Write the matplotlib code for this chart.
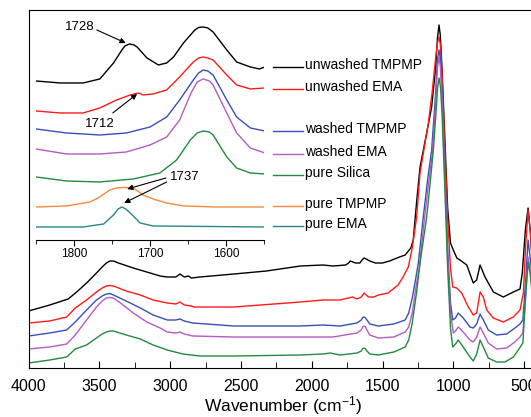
import matplotlib
matplotlib.use('Agg')
from matplotlib import pyplot as plt
from matplotlib.ticker import MultipleLocator

plt.rcParams['font.family'] = ['Liberation Sans', 'DejaVu Sans']
plt.rcParams['mathtext.default'] = 'regular'

# main spectra: wavenumber (cm-1) and offset absorbance (a.u.)
black_wn = [4000, 3850, 3720, 3660, 3590, 3520, 3480, 3450, 3425, 3400, 3365, 3260,
            3165, 3070, 3020, 2960, 2930, 2900, 2870, 2850, 2790, 2550,
            2320, 2080, 1920, 1850, 1760, 1740, 1728, 1710, 1690, 1660, 1645, 1630, 1615, 1590,
            1550, 1500, 1450, 1380, 1340, 1300, 1283, 1258, 1235, 1188,
            1153, 1125, 1112, 1101, 1092, 1080, 1060, 1040, 1020, 1000, 975, 953,
            905, 859, 835, 811, 776, 717, 647, 576, 529, 513,
            490, 472, 455, 440]
black_a = [57, 63, 69, 76, 85, 95, 101, 105, 107, 107, 105, 100,
           96, 92, 91, 91, 94, 91, 92, 90, 91, 94,
           97, 102, 103, 102, 103, 105, 107, 106, 105, 105, 108, 110, 109, 107,
           105, 105, 107, 111, 113, 120, 128, 168, 201, 235,
           261, 300, 330, 343, 333, 300, 230, 160, 125, 118, 110, 108,
           103, 85, 88, 103, 91, 76, 71, 76, 79, 95,
           140, 160, 135, 100]

red_wn = [4000, 3850, 3730, 3670, 3590, 3520, 3480, 3450, 3425, 3400, 3310, 3210,
          3120, 3020, 2960, 2930, 2900, 2850, 2830, 2550, 2080, 1920,
          1800, 1740, 1712, 1680, 1650, 1630, 1600, 1560, 1530, 1460,
          1390, 1355, 1318, 1290, 1259, 1235, 1200, 1176, 1150, 1125,
          1112, 1101, 1092, 1080, 1060, 1040, 1020, 1004, 976, 941, 894, 859,
          835, 811, 788, 764, 717, 647, 576, 529, 505, 490,
          472, 453, 440]
red_a = [45, 47, 51, 60, 68, 76, 80, 82, 82.5, 82, 77, 73,
         68, 65, 64, 66, 63, 62, 61, 61, 66, 68,
         68, 70, 71, 69, 71, 75, 71, 71, 73, 75,
         83, 91, 101, 120, 151, 195, 225, 245, 275, 310,
         325, 331, 324, 295, 220, 150, 100, 81, 80, 75, 61, 53,
         55, 76, 71, 58, 50, 46, 51, 58, 75, 120,
         158, 131, 100]

blue_wn = [4000, 3850, 3730, 3670, 3590, 3520, 3480, 3450, 3425, 3400, 3310, 3210,
           3120, 3020, 2960, 2930, 2900, 2840, 2550, 2080, 1920, 1800,
           1680, 1650, 1640, 1630, 1620, 1610, 1590, 1530, 1420, 1340, 1315, 1290,
           1265, 1247, 1212, 1180, 1153, 1125, 1112, 1101, 1092, 1080, 1060, 1040,
           1020, 1004, 985, 965, 930, 882, 859, 835, 811, 788,
           753, 694, 623, 565, 529, 509, 490, 472, 453, 440]
blue_a = [32, 35, 38, 46, 58, 68, 72, 74, 74.5, 73, 67, 60,
          53, 48, 48, 49, 47, 45, 42, 42, 43, 42,
          45, 48, 50.5, 51, 50, 48, 44, 42, 44, 48, 55, 70,
          90, 105, 151, 190, 218, 275, 308, 318, 310, 280, 200, 120,
          65, 48, 50, 55, 50, 41, 40, 44, 54, 48,
          38, 33, 34, 40, 44, 48, 85, 128, 105, 80]

purple_wn = [4000, 3850, 3730, 3670, 3590, 3520, 3480, 3450, 3425, 3400, 3350, 3260,
             3165, 3070, 3020, 2960, 2930, 2900, 2840, 2550, 2080, 1850,
             1680, 1650, 1640, 1630, 1620, 1610, 1590, 1530, 1420, 1340, 1315, 1290,
             1265, 1240, 1205, 1175, 1150, 1125, 1112, 1101, 1092, 1080, 1060, 1040,
             1020, 1000, 985, 965, 930, 882, 859, 835, 811, 788,
             753, 694, 623, 565, 529, 509, 490, 472, 453, 440]
purple_a = [19, 21, 24, 33, 48, 61, 67, 70, 70.5, 70, 65, 55,
            46, 40, 36, 35, 36, 34, 32, 31, 31, 31,
            35, 38, 41, 42, 41, 38, 33, 30, 31, 36, 41, 55,
            80, 100, 148, 185, 212, 265, 300, 311, 302, 270, 190, 110,
            55, 35, 37, 41, 36, 28, 26, 31, 41, 35,
            25, 19, 20, 26, 31, 35, 70, 111, 95, 70]

green_wn = [4000, 3850, 3730, 3670, 3590, 3520, 3480, 3450, 3425, 3400, 3310, 3210,
            3120, 3020, 2910, 2790, 2550, 2080, 1920, 1870, 1800, 1680,
            1650, 1640, 1630, 1620, 1610, 1590, 1530, 1420, 1340, 1315, 1290, 1260,
            1235, 1188, 1160, 1141, 1120, 1110, 1100, 1090, 1080, 1060, 1040, 1020,
            1004, 985, 965, 930, 882, 859, 835, 811, 788, 753,
            694, 635, 576, 541, 509, 490, 472, 453, 440]
green_a = [5, 8, 11, 19, 23, 30, 34, 36, 37, 37, 33, 29,
           23, 18, 14, 12, 12, 13, 14, 15, 13, 15,
           17, 19.5, 20, 19, 17, 14, 13, 16, 21, 28, 45, 75,
           105, 151, 190, 218, 260, 282, 290, 280, 255, 180, 100, 40,
           21, 24, 28, 21, 11, 7, 14, 28, 21, 10,
           6, 6, 11, 18, 25, 70, 106, 90, 65]

# inset: 1850-1550 cm-1 region
in_black_wn = [1850, 1818, 1788, 1766, 1748, 1737, 1733, 1727, 1721, 1717, 1704, 1689, 1678,
               1669, 1656, 1641, 1636, 1630, 1624, 1617, 1599, 1586, 1568, 1556, 1549]
in_black_a = [159, 157, 157, 161, 177, 190, 194, 196, 195, 193, 182, 175, 177,
              183, 197, 210, 212.5, 213, 212, 208, 190, 178, 173, 171, 173]
in_red_wn = [1850, 1818, 1788, 1766, 1744, 1726, 1715, 1709, 1696, 1678,
             1661, 1643, 1636, 1630, 1624, 1617, 1599, 1586, 1568, 1549]
in_red_a = [129, 127, 127, 132, 140, 145, 147, 145, 146, 150,
            163, 178, 182, 183, 182, 180, 165, 155, 151, 152]
in_blue_wn = [1850, 1810, 1766, 1731, 1700, 1678, 1661, 1643, 1636, 1630, 1624, 1617,
              1599, 1586, 1568, 1549]
in_blue_a = [111, 107, 105, 107, 113, 123, 140, 160, 167, 170, 169, 165,
             140, 123, 112, 109]
in_purple_wn = [1850, 1810, 1766, 1731, 1700, 1678, 1661, 1646, 1638, 1630, 1622, 1617,
                1599, 1586, 1568, 1549]
in_purple_a = [91, 86, 86, 88, 95, 103, 120, 147, 158, 161, 159, 155,
               127, 107, 92, 87]
in_green_wn = [1850, 1810, 1766, 1722, 1687, 1665, 1647, 1638, 1630, 1622, 1617, 1599,
               1586, 1568, 1549]
in_green_a = [63, 59, 58, 61, 67, 80, 100, 107, 109, 108, 105, 83, 72, 67, 66]
in_orange_wn = [1850, 1810, 1779, 1766, 1753, 1744, 1735, 1722, 1709, 1696, 1678,
                1656, 1613, 1549]
in_orange_a = [33, 34, 38, 43, 50, 52, 52.5, 52, 45, 41, 37, 34, 33, 33]
in_teal_wn = [1850, 1788, 1761, 1748, 1742, 1737, 1732, 1726, 1713, 1696, 1549]
in_teal_a = [13, 13, 16, 25, 31, 33, 31, 27, 17, 14, 13]

labels = ['unwashed TMPMP', 'unwashed EMA', 'washed TMPMP', 'washed EMA',
          'pure Silica', 'pure TMPMP', 'pure EMA']
label_level = [173, 151, 109, 86, 65, 34, 14]
colors = ['#000000', '#ff1a1a', '#3a4fb5', '#b35cc2', '#238a3e', '#f7893f', '#27878a']

fig = plt.figure(figsize=(5.31, 4.17), dpi=100)
ax = fig.add_axes([0.0537, 0.1175, 0.960, 0.8585])
main = [(black_wn, black_a), (red_wn, red_a), (blue_wn, blue_a),
        (purple_wn, purple_a), (green_wn, green_a)]
for (x, y), c in zip(main, colors):
  ax.plot(x, y, color=c, lw=1.0, solid_joinstyle='round')
ax.set_xlim(4000, 400)
ax.set_ylim(0, 358)
ax.xaxis.set_major_locator(MultipleLocator(500))
ax.xaxis.set_minor_locator(MultipleLocator(250))
ax.tick_params(axis='x', which='both', direction='in', labelsize=11.5, pad=8)
ax.tick_params(axis='x', which='major', length=5)
ax.tick_params(axis='x', which='minor', length=4)
ax.set_yticks([])
ax.spines['right'].set_visible(False)
ax.set_xlabel('Wavenumber (cm$^{-1}$)', fontsize=12.5, labelpad=0)

ins = fig.add_axes([0.0678, 0.4245, 0.4294, 0.5276])
ins.patch.set_alpha(0)
inset = [(in_black_wn, in_black_a), (in_red_wn, in_red_a), (in_blue_wn, in_blue_a),
         (in_purple_wn, in_purple_a), (in_green_wn, in_green_a),
         (in_orange_wn, in_orange_a), (in_teal_wn, in_teal_a)]
for (x, y), c in zip(inset, colors):
  ins.plot(x, y, color=c, lw=1.0, solid_joinstyle='round')
ins.set_xlim(1850, 1550)
ins.set_ylim(0, 220)
for s in ['top', 'left', 'right']:
  ins.spines[s].set_visible(False)
ins.set_yticks([])
ins.xaxis.set_major_locator(MultipleLocator(100))
ins.xaxis.set_minor_locator(MultipleLocator(50))
ins.tick_params(axis='x', which='both', direction='out', labelsize=8.5, pad=2)
ins.tick_params(axis='x', which='major', length=4)
ins.tick_params(axis='x', which='minor', length=3)

for lab, lev, c in zip(labels, label_level, colors):
  ins.plot([1538, 1499], [lev, lev], color=c, lw=1.0, clip_on=False)
  ins.text(1496, lev + 2, lab, fontsize=10, ha='left', va='center')

arrow = dict(arrowstyle='-|>', color='k', lw=0.8, mutation_scale=8,
             shrinkA=0, shrinkB=0)
ins.text(1792, 213, '1728', fontsize=9.5, ha='center', va='center')
ins.annotate('', xy=(1732, 197), xytext=(1770, 210), arrowprops=arrow)
ins.text(1766, 116, '1712', fontsize=9.5, ha='center', va='center')
ins.annotate('', xy=(1717, 146), xytext=(1749, 127), arrowprops=arrow)
ins.text(1654, 63, '1737', fontsize=9.5, ha='center', va='center')
ins.annotate('', xy=(1730, 51), xytext=(1679, 62), arrowprops=arrow)
ins.annotate('', xy=(1734, 37), xytext=(1678, 58), arrowprops=arrow)

fig.savefig('out.png', dpi=100)
